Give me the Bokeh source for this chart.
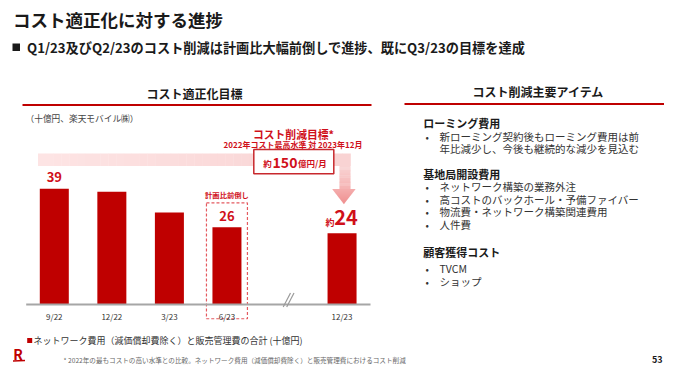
from bokeh.plotting import figure
from bokeh.models import Range1d, ColumnDataSource
from bokeh.core.properties import value
from bokeh.embed import file_html
from bokeh.resources import INLINE

# ---------------- data ----------------
periods = ["9/22", "12/22", "3/23", "6/23", "12/23"]
slots = [0, 1, 2, 3, 5]          # slot 4 is the axis break
costs = [39, 38, 31, 26, 24]      # 十億円
show_label = [True, False, False, True, True]

FONT = "Noto Sans CJK JP"
RED = "#bf0000"
TRED = "#d0101a"

W, H = 664, 365
p = figure(width=W, height=H, x_range=Range1d(0, W), y_range=Range1d(H, 0),
           output_backend="svg", toolbar_location=None, min_border=0,
           x_axis_location=None, y_axis_location=None)
p.grid.visible = False
p.outline_line_color = None
p.background_fill_color = "white"
p.border_fill_color = "white"

# data ranges for the bar chart
X0, DX = 53.8, 57.55      # slot 0 centre and slot pitch (screen px)
Y0, DY = 304, 2.97        # baseline and px per 十億円
p.extra_x_ranges = {"cat": Range1d((0 - X0) / DX, (W - X0) / DX)}
p.extra_y_ranges = {"val": Range1d(-(H - Y0) / DY, -(H - Y0) / DY + H / DY)}


def txt(x, y, s, size, color="#222222", bold=False, align="left", baseline="middle",
        xr=None, yr=None, x_offset=0, y_offset=0):
    kw = {}
    if xr:
        kw["x_range_name"] = xr
    if yr:
        kw["y_range_name"] = yr
    p.text(x=[x], y=[y], text=[s], text_font=value(FONT), text_font_size=f"{size}px",
           text_color=color, text_font_style="bold" if bold else "normal",
           text_align=align, text_baseline=baseline, x_offset=x_offset, y_offset=y_offset, **kw)


def hexrgb(c):
    c = c.lstrip("#")
    return tuple(int(c[i:i + 2], 16) for i in (0, 2, 4))


def lerp(c1, c2, t):
    a, b = hexrgb(c1), hexrgb(c2)
    return "#%02x%02x%02x" % tuple(int(round(a[i] + (b[i] - a[i]) * t)) for i in range(3))


# ---------------- titles ----------------
txt(12.5, 18.5, "コスト適正化に対する進捗", 17.5, "#1a1a1a", bold=True)
p.quad(left=12, right=19.5, top=43, bottom=50.5, fill_color="#1a1a1a", line_color=None)
txt(26.5, 47, "Q1/23及びQ2/23のコスト削減は計画比大幅前倒しで進捗、既にQ3/23の目標を達成", 13.2, "#1a1a1a", bold=True)

# section headers
txt(194, 92.5, "コスト適正化目標", 12, "#1a1a1a", bold=True, align="center")
p.segment(x0=[22], y0=[104.5], x1=[371], y1=[104.5], line_color=RED, line_width=2.2)
txt(538, 90.5, "コスト削減主要アイテム", 12, "#1a1a1a", bold=True, align="center")
p.segment(x0=[404], y0=[103.5], x1=[664], y1=[103.5], line_color=RED, line_width=2.2)

txt(25, 118, "（十億円、楽天モバイル㈱）", 8.7, "#444444")

# ---------------- reduction band & arrow ----------------
n = 40
x0, x1 = 37.5, 350
for k in range(n):
    a = x0 + (x1 - x0) * k / n
    b = x0 + (x1 - x0) * (k + 1) / n + 0.3
    p.quad(left=a, right=b, top=153, bottom=165.5,
           fill_color=lerp("#fde4e4", "#f9d3d3", k / (n - 1)), line_color=None)
m = 20
for k in range(m):
    a = 165.5 + (188.5 - 165.5) * k / m
    b = 165.5 + (188.5 - 165.5) * (k + 1) / m + 0.3
    p.quad(left=339, right=350, top=a, bottom=b,
           fill_color=lerp("#f9d3d3", "#f5b3b3", k / (m - 1)), line_color=None)
h = 15
for k in range(h):
    ya = 188.5 + k
    yb = 188.5 + k + 1.2
    wa = 11.7 * (1 - k / h)
    wb = max(11.7 * (1 - (k + 1.2) / h), 0)
    p.patch([343.4 - wa, 343.4 + wa, 343.4 + wb, 343.4 - wb], [ya, ya, yb, yb],
            fill_color=lerp("#f4acac", "#ef9090", k / (h - 1)), line_color=None)

txt(293, 133, "コスト削減目標*", 10.8, TRED, bold=True, align="center")
txt(292.5, 144.2, "2022年コスト最高水準 対 2023年12月", 8, TRED, bold=True, align="center")
p.quad(left=253.3, right=333.3, top=149, bottom=173.3, fill_color="white",
       line_color="#c8282d", line_width=1.5)
txt(267, 162, "約", 8.5, TRED, bold=True, align="center")
txt(284.5, 161.5, "150", 14, TRED, bold=True, align="center")
txt(297.5, 162, "億円/月", 8.5, TRED, bold=True, align="left")

# ---------------- bars ----------------
src = ColumnDataSource(dict(x=slots, top=costs, period=periods))
p.vbar(x="x", top="top", bottom=0, width=0.504, source=src, x_range_name="cat",
       y_range_name="val", fill_color=RED, line_color=None)

# highlight box around 6/23
hi = 3
p.quad(left=slots[hi] - 0.356, right=slots[hi] + 0.356, top=costs[hi] + 8.2, bottom=-4.8,
       x_range_name="cat", y_range_name="val", fill_color=None,
       line_color="#e45a60", line_dash="3 2", line_width=1.2)
txt(slots[hi], costs[hi] + 10.9, "計画比前倒し", 7.3, TRED, bold=True, align="center",
    xr="cat", yr="val")

# value labels
for i in range(len(costs)):
    if not show_label[i]:
        continue
    if i == len(costs) - 1:
        txt(slots[i], costs[i], str(costs[i]), 20, TRED, bold=True, align="center",
            xr="cat", yr="val", x_offset=4, y_offset=-15.5)
        txt(slots[i], costs[i], "約", 9, TRED, bold=True, align="center",
            xr="cat", yr="val", x_offset=-12, y_offset=-11)
    else:
        txt(slots[i], costs[i], str(costs[i]), 13, TRED, bold=True, align="center",
            xr="cat", yr="val", y_offset=-11.5)

# baseline and break mark
p.segment(x0=[25.7], y0=[304], x1=[370], y1=[304], line_color="#a6a6a6", line_width=2)
p.segment(x0=[282.7, 286.2], y0=[306.5, 306.5], x1=[290, 293.5], y1=[292.5, 292.5],
          line_color="#9a9a9a", line_width=1.2)

# category labels
p.text(x="x", y=0, text="period", source=src, x_range_name="cat", y_range_name="val",
       text_font=value(FONT), text_font_size="8px", text_color="#333333",
       text_align="center", text_baseline="middle", y_offset=11.5)

# legend
p.quad(left=26.7, right=31.7, top=337.5, bottom=342.5, fill_color=RED, line_color=None)
txt(33, 340, "ネットワーク費用（減価償却費除く）と販売管理費の合計 (十億円)", 9, "#333333")

# ---------------- right panel ----------------
txt(422.7, 122, "ローミング費用", 11, "#1a1a1a", bold=True)
txt(425, 135.5, "•", 10, "#333333")
txt(439, 135.5, "新ローミング契約後もローミング費用は前", 10.5, "#333333")
txt(439, 148, "年比減少し、今後も継続的な減少を見込む", 10.5, "#333333")

txt(422.7, 173.5, "基地局開設費用", 11, "#1a1a1a", bold=True)
for yy, s in zip([186, 198.5, 211, 223.5],
                 ["ネットワーク構築の業務外注", "高コストのバックホール・予備ファイバー",
                  "物流費・ネットワーク構築関連費用", "人件費"]):
    txt(425, yy, "•", 10, "#333333")
    txt(439, yy, s, 10.5, "#333333")

txt(422.7, 251.5, "顧客獲得コスト", 11, "#1a1a1a", bold=True)
for yy, s in zip([268, 280.5], ["TVCM", "ショップ"]):
    txt(425, yy, "•", 10, "#333333")
    txt(439, yy, s, 10.5, "#333333")

# ---------------- footer (kept inside the 365px frame) ----------------
txt(63, 359.5, "* 2022年の最もコストの高い水準との比較。ネットワーク費用（減価償却費除く）と販売管理費におけるコスト削減",
    6.6, "#666666")
txt(662, 358.5, "53", 9, "#1a1a1a", bold=True, align="right")
txt(17.5, 353.5, "R", 14, RED, bold=True, align="center", baseline="middle")
p.segment(x0=[12.5], y0=[360.5], x1=[24.5], y1=[360], line_color=RED, line_width=1.5)

open("out.html", "w").write(file_html(p, INLINE))
